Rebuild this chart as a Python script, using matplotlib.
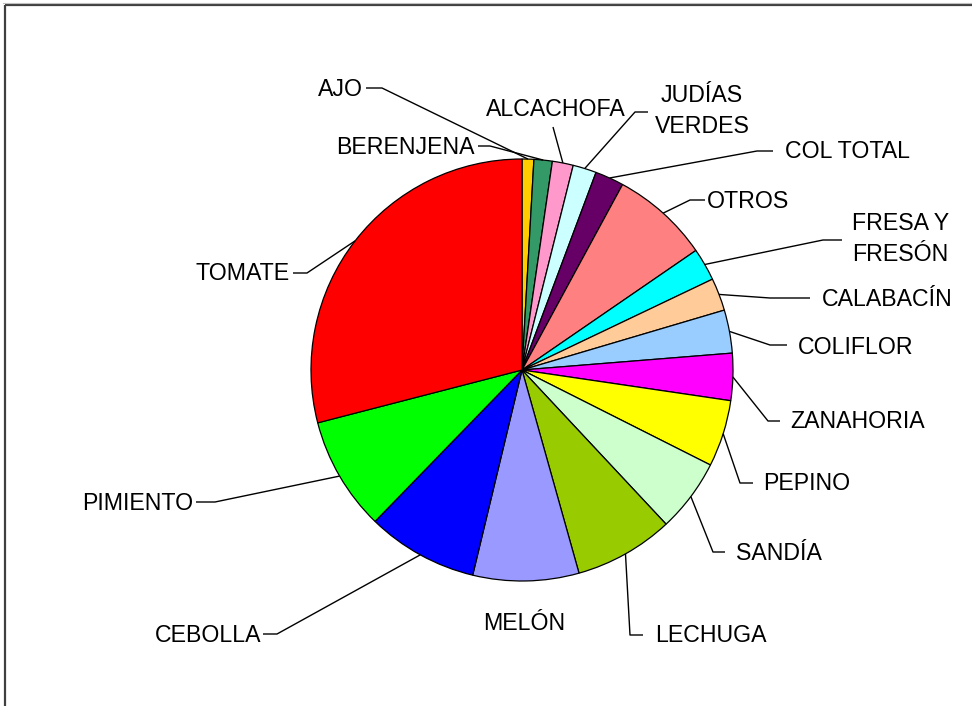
import matplotlib
matplotlib.use("Agg")
import matplotlib.pyplot as plt
import numpy as np

plt.rcParams['font.family'] = ['Liberation Sans', 'DejaVu Sans']

# ---- data (percent share) ----
categories = ["AJO", "BERENJENA", "ALCACHOFA", "JUDÍAS\nVERDES", "COL TOTAL", "OTROS",
              "FRESA Y\nFRESÓN", "CALABACÍN", "COLIFLOR", "ZANAHORIA", "PEPINO", "SANDÍA",
              "LECHUGA", "MELÓN", "CEBOLLA", "PIMIENTO", "TOMATE"]
values = [0.9, 1.4, 1.6, 1.8, 2.2, 7.5, 2.5, 2.5, 3.3, 3.6, 5.1, 5.6, 7.6, 8.1, 8.5, 8.7, 29.0]
colors = ["#FFCC00", "#339966", "#FF99CC", "#CCFFFF", "#660066", "#FF8080", "#00FFFF",
          "#FFCC99", "#99CCFF", "#FF00FF", "#FFFF00", "#CCFFCC", "#99CC00", "#9999FF",
          "#0000FF", "#00FF00", "#FF0000"]

# ---- layout (pixel coordinates; y grows downward) ----
W, H = 972, 706
center = (522, 370)
radius = 211
# per label: (elbow_x, elbow_y, horiz_end_x, text_x, text_y, ha) ; None elbow -> no leader
layout = {
    "AJO":              (382, 88, 366, 363, 89, "right"),
    "BERENJENA":        (490, 146, 478, 475, 147, "right"),
    "ALCACHOFA":        (553, 127, 553, 556, 109, "center"),
    "JUDÍAS\nVERDES":   (635, 112, 648, 702, 111, "center"),
    "COL TOTAL":        (757, 151, 773, 785, 152, "left"),
    "OTROS":            (690, 200, 705, 707, 201, "left"),
    "FRESA Y\nFRESÓN":  (823, 240, 842, 852, 239, "left"),
    "CALABACÍN":        (770, 298, 810, 822, 300, "left"),
    "COLIFLOR":         (770, 345, 787, 798, 347, "left"),
    "ZANAHORIA":        (768, 421, 780, 790, 422, "left"),
    "PEPINO":           (740, 483, 753, 763, 484, "left"),
    "SANDÍA":           (713, 552, 725, 736, 553, "left"),
    "LECHUGA":          (630, 635, 643, 655, 636, "left"),
    "MELÓN":            (None, None, None, 524, 623, "center"),
    "CEBOLLA":          (277, 634, 263, 261, 635, "right"),
    "PIMIENTO":         (215, 502, 196, 193, 503, "right"),
    "TOMATE":           (307, 273, 293, 290, 274, "right"),
}

fig = plt.figure(figsize=(W / 100, H / 100), dpi=100)
ax = fig.add_axes([0, 0, 1, 1])

wedges, _ = ax.pie(values, colors=colors, startangle=-90, counterclock=True,
                   center=center, radius=radius,
                   wedgeprops=dict(edgecolor="black", linewidth=0.9))
ax.set_xlim(0, W)
ax.set_ylim(H, 0)
ax.set_aspect("equal", adjustable="box")
ax.axis("off")

for w, name in zip(wedges, categories):
    ex, ey, hx, tx, ty, ha = layout[name]
    if ex is not None:
        mid = np.deg2rad((w.theta1 + w.theta2) / 2)
        px = center[0] + radius * np.cos(mid)
        py = center[1] + radius * np.sin(mid)
        ax.plot([px, ex, hx], [py, ey, ey], color="black", lw=1.0,
                solid_capstyle="butt", zorder=3)
    ax.text(tx, ty, name, ha=ha, va="center", fontsize=16.7, color="black",
            multialignment="center" if ha == "center" else "left",
            linespacing=1.4, zorder=4)

# frame border (top and left)
ax.plot([5, W], [5, 5], color="#404040", lw=1.6, solid_capstyle="butt")
ax.plot([5, 5], [5, H], color="#404040", lw=1.6, solid_capstyle="butt")
ax.plot([3, W], [3, 3], color="#C0C0C0", lw=0.8)

fig.savefig("out.png", dpi=100)
